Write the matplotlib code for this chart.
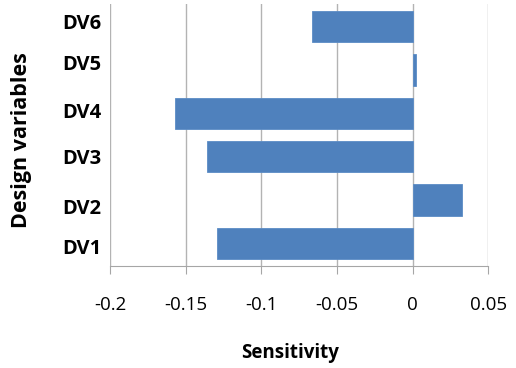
import matplotlib.pyplot as plt

# sensitivity of each design variable
variables = ["DV1", "DV2", "DV3", "DV4", "DV5", "DV6"]
sensitivity = [-0.1295, 0.0326, -0.136, -0.157, 0.002, -0.0667]
x_ticks = [-0.2, -0.15, -0.1, -0.05, 0, 0.05]
x_tick_labels = ["-0.2", "-0.15", "-0.1", "-0.05", "0", "0.05"]

# the category labels in the original sit a little off the bar centres
label_shift = [-0.07, -0.15, 0.0, 0.06, 0.17, 0.12]

plt.rcParams['font.family'] = ['Open Sans', 'DejaVu Sans']

fig = plt.figure(figsize=(5.16, 3.68), dpi=100)
ax = fig.add_axes([110/516, 102.3/368, 378.3/516, 261.4/368])

pos = list(range(len(variables)))
ax.barh(pos, sensitivity, height=0.725, color="#4f81bd", edgecolor="#5b8cc6",
        linewidth=0.6, zorder=3)

ax.set_xlim(-0.2, 0.05)
ax.set_ylim(-0.51, 5.51)
ax.set_xticks(x_ticks)
ax.set_xticklabels(x_tick_labels, fontsize=13.5)
ax.set_yticks([p + s for p, s in zip(pos, label_shift)])
ax.set_yticklabels(variables, fontsize=14.5, fontweight="bold")

ax.grid(axis="x", color="#b3b3b3", linewidth=1.0, zorder=0)
for side in ["top", "right", "left"]:
    ax.spines[side].set_visible(False)
ax.spines["bottom"].set_color("#a6a6a6")
ax.tick_params(axis="x", length=6, color="#a6a6a6", pad=16)
ax.tick_params(axis="y", length=0, pad=6)

ax.set_xlabel("Sensitivity", fontsize=13.5, fontweight="bold")
ax.xaxis.set_label_coords(0.476, -0.295)
ax.set_ylabel("Design variables", fontsize=15.5, fontweight="bold")
ax.yaxis.set_label_coords(-0.205, 0.479)

fig.savefig("out.png", dpi=100)
